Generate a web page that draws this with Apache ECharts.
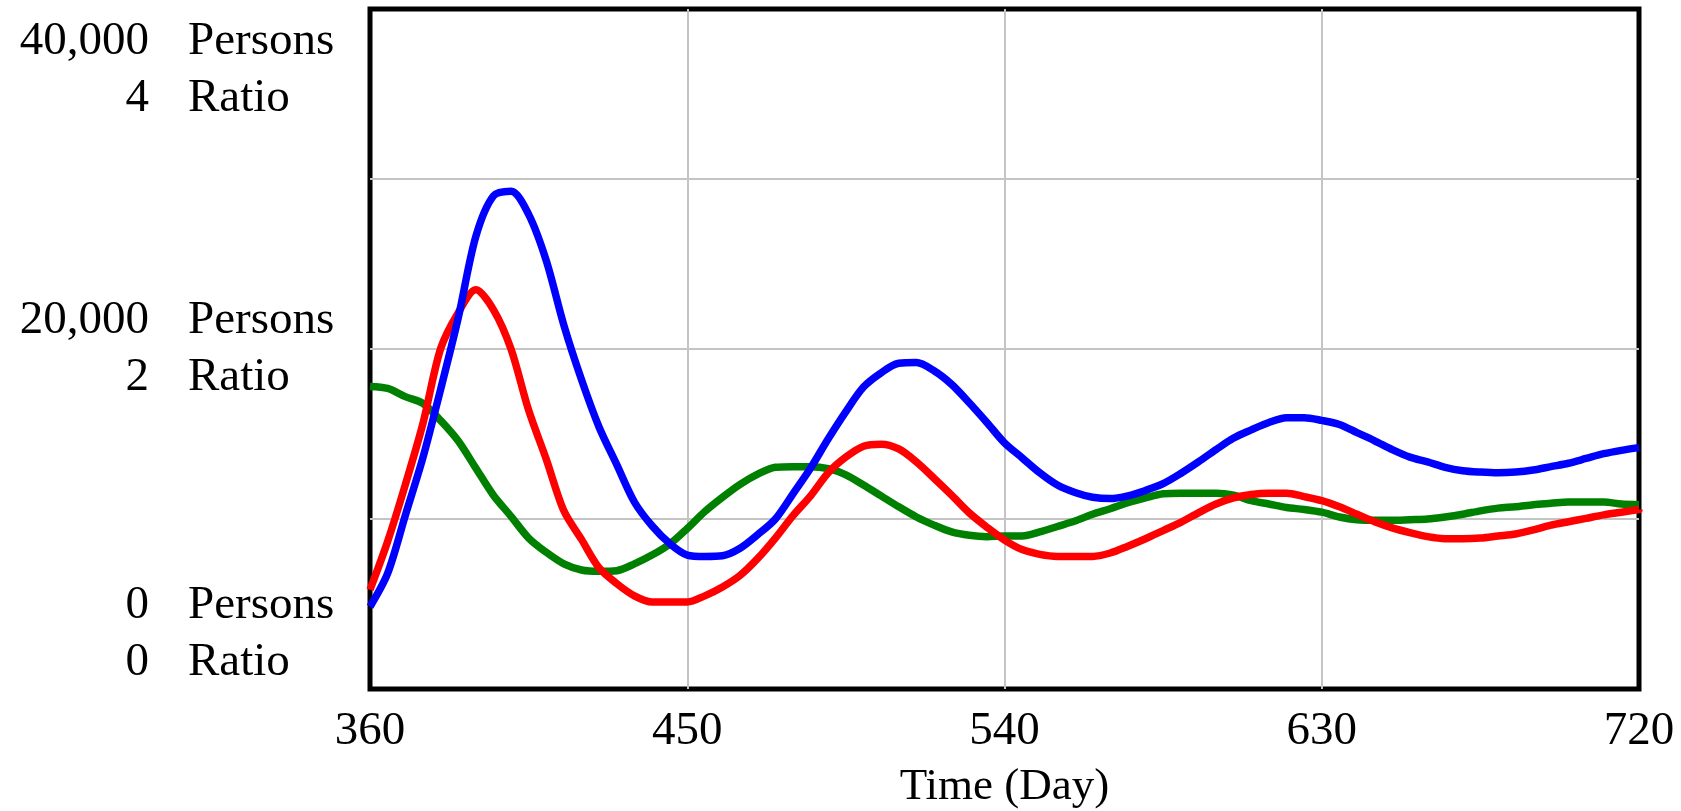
<!DOCTYPE html>
<html>
<head>
<meta charset="utf-8">
<script src="https://cdn.jsdelivr.net/npm/echarts@6/dist/echarts.min.js"></script>
<style>
  html, body { margin: 0; padding: 0; background: #fff; }
  #chart { width: 1681px; height: 811px; }
</style>
</head>
<body>
<div id="chart"></div>
<script>
// ---- data ----
const days = [360,365,370,375,380,385,390,395,400,405,410,415,420,425,430,435,440,445,450,455,460,465,470,475,480,485,490,495,500,505,510,515,520,525,530,535,540,545,550,555,560,565,570,575,580,585,590,595,600,605,610,615,620,625,630,635,640,645,650,655,660,665,670,675,680,685,690,695,700,705,710,715,720];

// blue series (Persons)
const bluePersons = [4840,6800,10200,13600,17600,21800,26600,29000,29280,27920,25200,21400,18200,15400,13200,11000,9600,8560,7880,7800,7840,8280,9080,10000,11480,13000,14720,16320,17760,18600,19160,19200,18720,17920,16840,15680,14480,13600,12720,12000,11560,11280,11200,11360,11680,12080,12680,13360,14080,14760,15240,15680,15960,15960,15800,15560,15080,14600,14080,13640,13360,13040,12840,12760,12720,12760,12880,13080,13280,13560,13840,14040,14200];

// red series (Persons)
const redPersons = [5840,8680,12000,15600,20000,22120,23480,22320,20000,16400,13520,10480,8800,7120,6200,5480,5120,5120,5120,5480,6000,6680,7680,8880,10200,11360,12720,13640,14280,14400,14120,13360,12400,11400,10360,9520,8760,8200,7920,7800,7800,7800,8000,8400,8840,9320,9800,10360,10880,11240,11440,11520,11520,11320,11080,10720,10280,9840,9480,9200,8960,8840,8840,8880,9000,9120,9360,9640,9840,10040,10240,10400,10560];

// green series (Ratio)
const greenRatio = [1.78,1.768,1.72,1.68,1.58,1.46,1.30,1.14,1.016,0.888,0.804,0.736,0.70,0.692,0.696,0.736,0.788,0.852,0.944,1.044,1.128,1.204,1.264,1.304,1.308,1.308,1.296,1.26,1.20,1.136,1.072,1.012,0.964,0.924,0.904,0.896,0.90,0.90,0.924,0.956,0.988,1.028,1.06,1.096,1.124,1.148,1.152,1.152,1.152,1.14,1.108,1.088,1.068,1.056,1.04,1.012,0.996,0.992,0.992,0.996,1.00,1.012,1.028,1.048,1.064,1.072,1.084,1.092,1.10,1.10,1.10,1.088,1.084];

// tick labels
const xTicks = [360, 450, 540, 630, 720];
const personsTicks = [0, 20000, 40000];
const ratioTicks = [0, 2, 4];
const personsTickLabels = ['0', '20,000', '40,000'];
const ratioTickLabels = ['0', '2', '4'];
const personsUnit = 'Persons';
const ratioUnit = 'Ratio';
const xName = 'Time (Day)';

// ---- chart ----
const FONT = "'Liberation Serif', 'Times New Roman', serif";
const pair = (arr) => days.map((d, i) => [d, arr[i]]);
const GRID_LEFT = 370;

const chart = echarts.init(document.getElementById('chart'), null, { renderer: 'canvas' });
chart.setOption({
  animation: false,
  backgroundColor: '#ffffff',
  grid: {
    left: GRID_LEFT, right: 42, top: 9, bottom: 122,
    containLabel: false, outerBoundsMode: 'none',
    show: true, borderColor: '#000000', borderWidth: 5, backgroundColor: 'transparent'
  },
  xAxis: {
    type: 'value',
    min: xTicks[0], max: xTicks[xTicks.length - 1], interval: 90,
    name: xName, nameLocation: 'middle', nameGap: 76,
    nameTextStyle: { color: '#000', fontSize: 45, fontFamily: FONT },
    axisLine: { show: false }, axisTick: { show: false },
    axisLabel: { color: '#000', fontSize: 47, fontFamily: FONT, margin: 19,
      formatter: (v) => xTicks.indexOf(v) >= 0 ? String(v) : '' },
    splitLine: { show: true, showMinLine: false, showMaxLine: false,
      lineStyle: { color: '#c4c4c4', width: 2 } }
  },
  yAxis: [
    {
      // Persons axis: carries the numbers column
      type: 'value', min: 0, max: 40000, interval: 10000, position: 'left',
      axisLine: { show: false }, axisTick: { show: false },
      splitLine: { show: true, showMinLine: false, showMaxLine: false,
        lineStyle: { color: '#c4c4c4', width: 2 } },
      axisLabel: {
        margin: GRID_LEFT - 149,
        align: 'right',
        color: '#000', fontSize: 47, fontFamily: FONT, lineHeight: 57,
        padding: [4, 0, -2, 0],
        verticalAlignMinLabel: 'bottom',
        verticalAlignMaxLabel: 'top',
        formatter: (v) => {
          const i = personsTicks.indexOf(v);
          return i < 0 ? '' : personsTickLabels[i] + '\n' + ratioTickLabels[i];
        }
      }
    },
    {
      // Ratio axis: carries the units column
      type: 'value', min: 0, max: 4, interval: 1, position: 'left',
      axisLine: { show: false }, axisTick: { show: false },
      splitLine: { show: false },
      axisLabel: {
        margin: GRID_LEFT - 188,
        align: 'left',
        color: '#000', fontSize: 47, fontFamily: FONT, lineHeight: 57,
        padding: [4, 0, -2, 0],
        verticalAlignMinLabel: 'bottom',
        verticalAlignMaxLabel: 'top',
        formatter: (v) => ratioTicks.indexOf(v) < 0 ? '' : personsUnit + '\n' + ratioUnit
      }
    }
  ],
  series: [
    { name: 'Ratio', type: 'line', yAxisIndex: 1, data: pair(greenRatio), showSymbol: false,
      smooth: 0.3, lineStyle: { color: '#008000', width: 7.5 } },
    { name: 'Persons B', type: 'line', yAxisIndex: 0, data: pair(redPersons), showSymbol: false,
      smooth: 0.3, lineStyle: { color: '#ff0000', width: 7.5 } },
    { name: 'Persons A', type: 'line', yAxisIndex: 0, data: pair(bluePersons), showSymbol: false,
      smooth: 0.3, lineStyle: { color: '#0000ff', width: 7.5 } }
  ]
});
</script>
</body>
</html>
